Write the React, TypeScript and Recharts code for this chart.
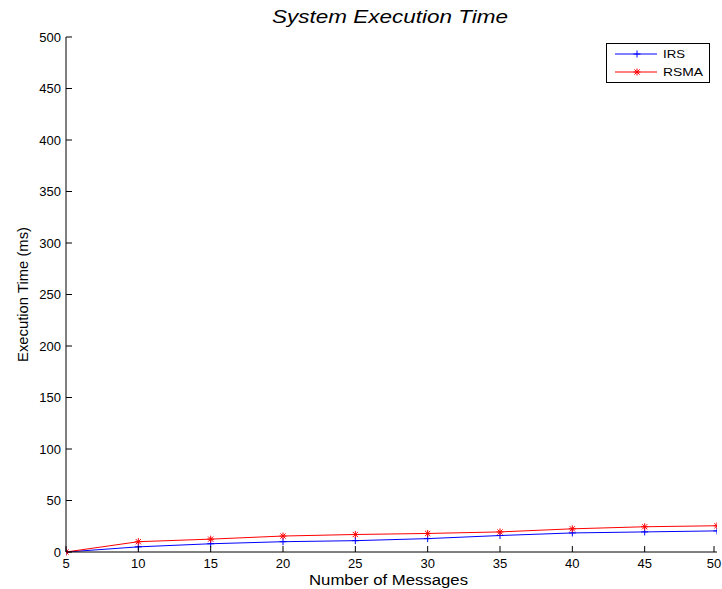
import React from "react";
import { LineChart, Line, XAxis, YAxis } from "recharts";

const messages = [5, 10, 15, 20, 25, 30, 35, 40, 45, 50];
const irsTime = [0, 5, 8, 10, 11, 13, 16, 18.5, 19.5, 20.5];
const rsmaTime = [0, 10, 12.5, 15.5, 17, 18, 19.5, 22.5, 24.5, 25.5];
const yTicks = [0, 50, 100, 150, 200, 250, 300, 350, 400, 450, 500];

const data = messages.map((m, i) => ({ m, IRS: irsTime[i], RSMA: rsmaTime[i] }));

const FONT = "'Liberation Sans', Arial, sans-serif";

const PlusDot = (props: any) => {
  const { cx, cy } = props;
  if (cx == null || cy == null) return null;
  return (
    <g stroke="#0000ff" strokeWidth={1}>
      <line x1={cx - 3.5} y1={cy} x2={cx + 3.5} y2={cy} />
      <line x1={cx} y1={cy - 3.5} x2={cx} y2={cy + 3.5} />
    </g>
  );
};

const StarDot = (props: any) => {
  const { cx, cy } = props;
  if (cx == null || cy == null) return null;
  const r = 3.5;
  const d = 2.6;
  return (
    <g stroke="#ff0000" strokeWidth={1}>
      <line x1={cx - r} y1={cy} x2={cx + r} y2={cy} />
      <line x1={cx} y1={cy - r} x2={cx} y2={cy + r} />
      <line x1={cx - d} y1={cy - d} x2={cx + d} y2={cy + d} />
      <line x1={cx - d} y1={cy + d} x2={cx + d} y2={cy - d} />
    </g>
  );
};

const XTick = (props: any) => {
  const { x, y, payload } = props;
  const axisY = y - 4;
  return (
    <g>
      <line x1={x} y1={axisY} x2={x} y2={axisY - 6} stroke="#000" />
      <text x={x} y={axisY + 16} textAnchor="middle" fontSize={13} fontFamily={FONT} fill="#000">
        {payload.value}
      </text>
    </g>
  );
};

const YTick = (props: any) => {
  const { x, y, payload } = props;
  const axisX = x + 5;
  return (
    <g>
      <line x1={axisX} y1={y} x2={axisX + 6} y2={y} stroke="#000" />
      <text x={x} y={y} dy="0.35em" textAnchor="end" fontSize={13} fontFamily={FONT} fill="#000">
        {payload.value}
      </text>
    </g>
  );
};

const LegendBox = () => (
  <div
    style={{
      position: "absolute",
      left: 606,
      top: 43,
      width: 104,
      height: 40,
      border: "1px solid #000",
      background: "#fff",
      boxSizing: "border-box",
    }}
  >
    <svg width={102} height={38} style={{ display: "block" }}>
      <line x1={8} y1={10} x2={50} y2={10} stroke="#0000ff" />
      <PlusDot cx={30} cy={10} />
      <text x={56} y={14} fontSize={11} fontFamily={FONT} textLength={22} lengthAdjust="spacingAndGlyphs">
        IRS
      </text>
      <line x1={8} y1={28} x2={50} y2={28} stroke="#ff0000" />
      <StarDot cx={30} cy={28} />
      <text x={56} y={32} fontSize={11} fontFamily={FONT} textLength={40} lengthAdjust="spacingAndGlyphs">
        RSMA
      </text>
    </svg>
  </div>
);

const Labels = () => (
  <svg
    width={722}
    height={589}
    style={{ position: "absolute", left: 0, top: 0, pointerEvents: "none" }}
  >
    <text
      x={390}
      y={23}
      textAnchor="middle"
      fontSize={18}
      fontStyle="italic"
      fontFamily={FONT}
      textLength={236}
      lengthAdjust="spacingAndGlyphs"
    >
      System Execution Time
    </text>
    <text
      x={388.5}
      y={585}
      textAnchor="middle"
      fontSize={14}
      fontFamily={FONT}
      textLength={159}
      lengthAdjust="spacingAndGlyphs"
    >
      Number of Messages
    </text>
    <text
      transform="translate(28,294.5) rotate(-90)"
      x={0}
      y={0}
      textAnchor="middle"
      fontSize={15}
      fontFamily={FONT}
      textLength={135}
      lengthAdjust="spacingAndGlyphs"
    >
      Execution Time (ms)
    </text>
  </svg>
);

export default function App() {
  return (
    <div style={{ position: "absolute", left: 0, top: 0, width: 722, height: 589, background: "#fff" }}>
      <LineChart width={722} height={589} data={data} margin={{ top: 37, right: 5, bottom: 0, left: 0 }}>
        <XAxis
          dataKey="m"
          type="number"
          domain={[5, 50]}
          ticks={messages}
          height={37}
          tickSize={0}
          tickMargin={4}
          stroke="#000"
          tick={<XTick />}
          allowDataOverflow
        />
        <YAxis
          type="number"
          domain={[0, 500]}
          ticks={yTicks}
          width={66}
          tickSize={0}
          tickMargin={5}
          stroke="#000"
          tick={<YTick />}
        />
        <Line
          dataKey="IRS"
          stroke="#0000ff"
          strokeWidth={1}
          dot={<PlusDot />}
          activeDot={false}
          isAnimationActive={false}
        />
        <Line
          dataKey="RSMA"
          stroke="#ff0000"
          strokeWidth={1}
          dot={<StarDot />}
          activeDot={false}
          isAnimationActive={false}
        />
      </LineChart>
      <LegendBox />
      <Labels />
    </div>
  );
}
